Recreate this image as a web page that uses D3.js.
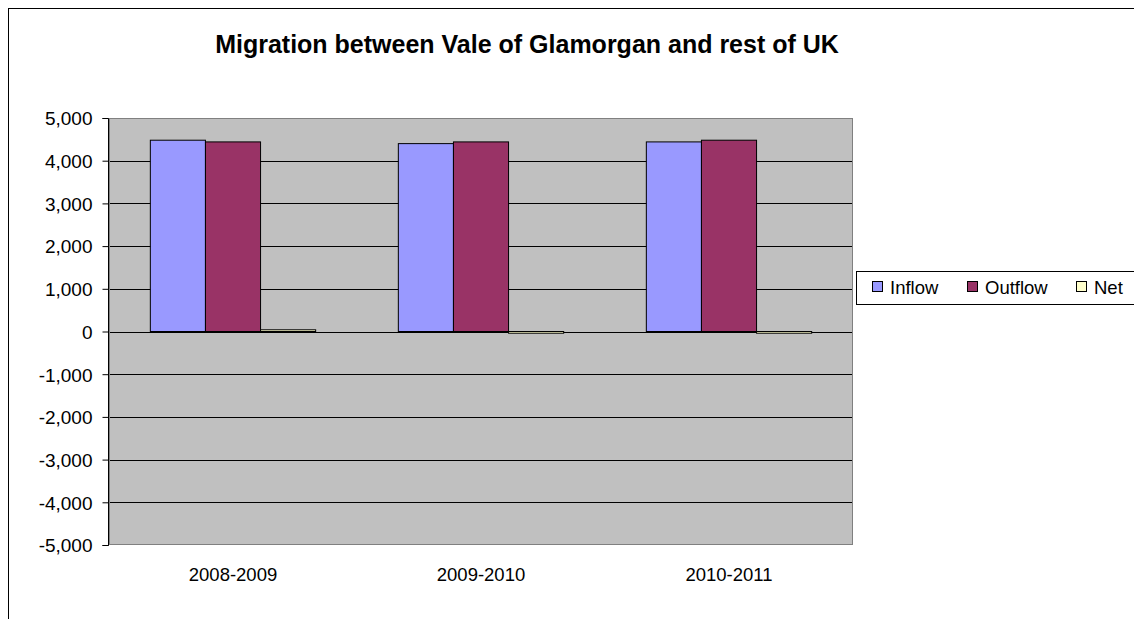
<!DOCTYPE html>
<html>
<head>
<meta charset="utf-8">
<script src="https://cdn.jsdelivr.net/npm/d3@7"></script>
<style>
  html, body { margin: 0; padding: 0; background: #fff; }
  svg { display: block; font-family: "Liberation Sans", Arial, sans-serif; }
</style>
</head>
<body>
<svg id="chart" width="1134" height="619"></svg>
<script>
// Migration figures by year
const categories = ["2008-2009", "2009-2010", "2010-2011"];
const seriesNames = ["Inflow", "Outflow", "Net"];
const inflow = [4480, 4400, 4440];
const outflow = [4440, 4440, 4480];
const net = [40, -40, -40];
const yTicks = [-5000, -4000, -3000, -2000, -1000, 0, 1000, 2000, 3000, 4000, 5000];
const colors = ["#9999FF", "#993366", "#FFFFCC"];

const values = [inflow, outflow, net];
const svg = d3.select("#chart");
const FONT = "'Liberation Sans', Arial, sans-serif";

// chart area frame (extends past the window on right and bottom)
svg.append("rect")
  .attr("x", 8.5).attr("y", 8.5)
  .attr("width", 1200).attr("height", 700)
  .attr("fill", "#fff").attr("stroke", "#000").attr("stroke-width", 1);

const plot = { left: 109, right: 853, top: 118, bottom: 545 };

const x = d3.scaleBand().domain(categories).range([plot.left, plot.right]).padding(0);
const y = d3.scaleLinear().domain([-5000, 5000]).range([plot.bottom, plot.top]);

// plot background
svg.append("rect")
  .attr("x", plot.left).attr("y", plot.top)
  .attr("width", plot.right - plot.left).attr("height", plot.bottom - plot.top)
  .attr("fill", "#C0C0C0");

// gridlines
svg.append("g").selectAll("line")
  .data(yTicks.filter(t => t !== -5000 && t !== 5000))
  .join("line")
  .attr("x1", plot.left).attr("x2", plot.right)
  .attr("y1", d => Math.round(y(d)) + 0.5).attr("y2", d => Math.round(y(d)) + 0.5)
  .attr("stroke", "#000").attr("stroke-width", 1);

// plot border
svg.append("rect")
  .attr("x", plot.left + 0.5).attr("y", plot.top + 0.5)
  .attr("width", plot.right - plot.left - 1).attr("height", plot.bottom - plot.top - 1)
  .attr("fill", "none").attr("stroke", "#808080").attr("stroke-width", 1);

// bars: gap width 150% of a bar
const nS = seriesNames.length;
const barW = x.bandwidth() / (nS + 1.5);
const groupOffset = (x.bandwidth() - barW * nS) / 2;

const groups = svg.append("g").selectAll("g")
  .data(categories)
  .join("g")
  .attr("transform", d => `translate(${x(d) + groupOffset},0)`);

groups.selectAll("rect")
  .data((c, ci) => values.map((vals, si) => ({ si, v: vals[ci] })))
  .join("rect")
  .attr("x", d => d.si * barW)
  .attr("width", barW)
  .attr("y", d => y(Math.max(0, d.v)))
  .attr("height", d => Math.max(1, Math.abs(y(d.v) - y(0))))
  .attr("fill", d => colors[d.si])
  .attr("stroke", "#000").attr("stroke-width", 1);

// y axis, thousands separator with a plain hyphen for negatives
const fmt = d3.formatLocale({ decimal: ".", thousands: ",", grouping: [3], currency: ["", ""], minus: "-" }).format(",d");
const yAxis = d3.axisLeft(y)
  .tickValues(yTicks)
  .tickSize(6)
  .tickPadding(10)
  .tickFormat(fmt);
const yg = svg.append("g")
  .attr("transform", `translate(${plot.left - 0.5},0)`)
  .call(yAxis);
yg.select(".domain").attr("stroke", "#000").attr("d", `M-6,${plot.top + 0.5}H0V${plot.bottom + 0.5}H-6`);
yg.selectAll(".tick line").attr("stroke", "#000");
yg.selectAll("text")
  .attr("font-size", 19)
  .attr("fill", "#000")
  .attr("dy", "0.36em")
  .attr("font-family", FONT);

// category labels along the bottom
const xAxis = d3.axisBottom(x).tickSize(0).tickPadding(0);
const xg = svg.append("g")
  .attr("transform", `translate(0,${plot.bottom + 36})`)
  .call(xAxis);
xg.select(".domain").remove();
xg.selectAll("text")
  .attr("font-size", 18.5)
  .attr("fill", "#000")
  .attr("dy", "0")
  .attr("font-family", FONT);

// title
svg.append("text")
  .attr("x", 527).attr("y", 53)
  .attr("text-anchor", "middle")
  .attr("font-size", 25)
  .attr("font-weight", "bold")
  .attr("font-family", FONT)
  .text("Migration between Vale of Glamorgan and rest of UK");

// legend
const legendBox = { x: 856.5, y: 271.5, w: 400, h: 33 };
svg.append("rect")
  .attr("x", legendBox.x).attr("y", legendBox.y)
  .attr("width", legendBox.w).attr("height", legendBox.h)
  .attr("fill", "#fff").attr("stroke", "#000").attr("stroke-width", 1);

const legendX = [872, 967, 1076];
const lg = svg.append("g").selectAll("g")
  .data(seriesNames)
  .join("g")
  .attr("transform", (d, i) => `translate(${legendX[i]},281)`);
lg.append("rect")
  .attr("x", 0.5).attr("y", 0.5)
  .attr("width", 10).attr("height", 10)
  .attr("fill", (d, i) => colors[i])
  .attr("stroke", "#000").attr("stroke-width", 1);
lg.append("text")
  .attr("x", 18).attr("y", 12.5)
  .attr("font-size", 18.5)
  .attr("font-family", FONT)
  .text(d => d);
</script>
</body>
</html>
